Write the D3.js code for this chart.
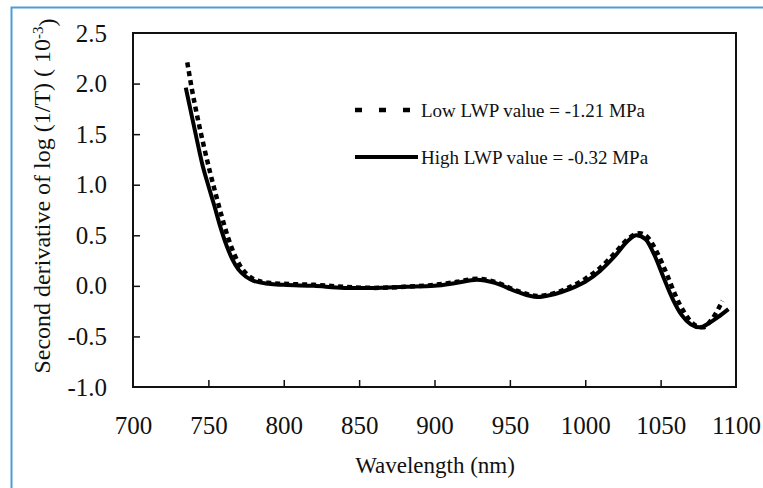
<!DOCTYPE html>
<html>
<head>
<meta charset="utf-8">
<script src="https://cdn.jsdelivr.net/npm/d3@7"></script>
<style>
  body { margin: 0; background: #fff; }
  svg { display: block; }
  svg text { font-family: "Liberation Serif", "Times New Roman", serif; }
</style>
</head>
<body>
<div id="chart"></div>
<script>
// data
var xTicks = [700, 750, 800, 850, 900, 950, 1000, 1050, 1100];
var yTicks = [-1.0, -0.5, 0.0, 0.5, 1.0, 1.5, 2.0, 2.5];

var lowWl = [736, 739, 743, 747, 751, 755, 759, 763, 767, 771, 776, 781, 790, 800, 820, 840, 860, 880, 900, 915, 928, 940, 955, 968, 980, 990, 1000, 1010, 1020, 1028, 1036, 1042, 1048, 1054, 1060, 1066, 1072, 1078, 1084, 1091];
var lowVal = [2.21, 1.95, 1.65, 1.38, 1.13, 0.90, 0.68, 0.48, 0.32, 0.20, 0.11, 0.06, 0.03, 0.02, 0.01, -0.01, -0.02, -0.01, 0.01, 0.04, 0.07, 0.04, -0.05, -0.10, -0.07, -0.01, 0.07, 0.18, 0.33, 0.46, 0.52, 0.47, 0.32, 0.12, -0.10, -0.27, -0.38, -0.41, -0.33, -0.15];

var highWl = [735, 738, 742, 746, 750, 754, 758, 762, 766, 770, 775, 780, 790, 800, 820, 840, 860, 880, 900, 915, 928, 940, 955, 968, 980, 990, 1000, 1010, 1020, 1028, 1034, 1040, 1046, 1052, 1058, 1064, 1070, 1076, 1082, 1088, 1095];
var highVal = [1.96, 1.75, 1.47, 1.20, 0.99, 0.79, 0.58, 0.40, 0.26, 0.16, 0.09, 0.05, 0.02, 0.01, 0.0, -0.02, -0.02, -0.01, 0.0, 0.03, 0.06, 0.03, -0.06, -0.11, -0.08, -0.03, 0.04, 0.15, 0.30, 0.44, 0.50, 0.46, 0.30, 0.08, -0.13, -0.29, -0.38, -0.41, -0.37, -0.31, -0.23];

var legendLabels = ["Low LWP value = -1.21 MPa", "High LWP value = -0.32 MPa"];

var W = 763, H = 488;
// plot box (don't call it "top", that's window.top)
var pL = 133, pT = 33, pR = 736, pB = 387;
var serif = "'Liberation Serif', 'Times New Roman', serif";

var svg = d3.select("#chart").append("svg")
    .attr("width", W).attr("height", H)
    .attr("font-family", serif);

// light blue frame of the figure
svg.append("path")
    .attr("d", "M11.5," + H + "V7.5H" + W)
    .attr("fill", "none")
    .attr("stroke", "#4f9bd6")
    .attr("stroke-width", 2);

var x = d3.scaleLinear().domain([700, 1100]).range([pL, pR]);
var y = d3.scaleLinear().domain([-1, 2.5]).range([pB, pT]);

// plain hyphen instead of d3's unicode minus
var fmtY = function(d){ return d.toFixed(1); };

// axes, ticks inward
var xAxis = d3.axisBottom(x).tickValues(xTicks).tickSizeInner(-7).tickSizeOuter(0).tickPadding(29)
    .tickFormat(function(d){ return String(d); });
var yAxis = d3.axisLeft(y).tickValues(yTicks).tickSizeInner(-7).tickSizeOuter(0).tickPadding(26)
    .tickFormat(fmtY);

var gx = svg.append("g").attr("transform", "translate(0," + pB + ")").call(xAxis);
var gy = svg.append("g").attr("transform", "translate(" + pL + ",0)").call(yAxis);

[gx, gy].forEach(function(g){
  g.attr("font-family", serif).attr("font-size", 25);
  g.select(".domain").remove();
  g.selectAll(".tick line").attr("stroke", "#111").attr("stroke-width", 1.5);
  g.selectAll(".tick text").style("font-family", serif).style("font-size", "25px").attr("fill", "#111");
});
gx.selectAll(".tick text").attr("dy", "0.71em");
gy.selectAll(".tick line").filter(function(d){ return d == -1 || d == 2.5; }).remove();
gx.selectAll(".tick line").filter(function(d){ return d == 700 || d == 1100; }).remove();

// plot frame
svg.append("rect")
    .attr("x", pL).attr("y", pT)
    .attr("width", pR - pL).attr("height", pB - pT)
    .attr("fill", "none").attr("stroke", "#111").attr("stroke-width", 2);

// curves
var line = d3.line()
    .x(function(d){ return x(d[0]); })
    .y(function(d){ return y(d[1]); })
    .curve(d3.curveMonotoneX);

var highData = highWl.map(function(w, i){ return [w, highVal[i]]; });
var lowData = lowWl.map(function(w, i){ return [w, lowVal[i]]; });

svg.append("path")
    .datum(highData)
    .attr("d", line)
    .attr("fill", "none")
    .attr("stroke", "#000")
    .attr("stroke-width", 4);

svg.append("path")
    .datum(lowData)
    .attr("d", line)
    .attr("fill", "none")
    .attr("stroke", "#000")
    .attr("stroke-width", 4.5)
    .attr("stroke-dasharray", "5,4");

// legend
svg.append("line")
    .attr("x1", 355).attr("x2", 412).attr("y1", 110).attr("y2", 110)
    .attr("stroke", "#000").attr("stroke-width", 4.5)
    .attr("stroke-dasharray", "7,17");
svg.append("line")
    .attr("x1", 355).attr("x2", 418).attr("y1", 157).attr("y2", 157)
    .attr("stroke", "#000").attr("stroke-width", 4);

svg.append("text").attr("x", 421).attr("y", 117)
    .style("font-family", serif).style("font-size", "19px").attr("fill", "#111").text(legendLabels[0]);
svg.append("text").attr("x", 421).attr("y", 164)
    .style("font-family", serif).style("font-size", "19px").attr("fill", "#111").text(legendLabels[1]);

// axis titles
svg.append("text")
    .attr("x", 435).attr("y", 473)
    .attr("text-anchor", "middle")
    .style("font-family", serif)
    .style("font-size", "23px")
    .attr("fill", "#111")
    .text("Wavelength (nm)");

var yt = svg.append("text")
    .attr("transform", "translate(50," + ((pT + pB) / 2 - 14) + ") rotate(-90)")
    .attr("text-anchor", "middle")
    .style("font-family", serif)
    .style("font-size", "24px")
    .attr("fill", "#111");
yt.append("tspan").text("Second derivative of log (1/T) (  10");
yt.append("tspan").attr("dy", "-0.5em").style("font-size", "15px").text("-3");
yt.append("tspan").attr("dy", "0.5em").text(")");
</script>
</body>
</html>
